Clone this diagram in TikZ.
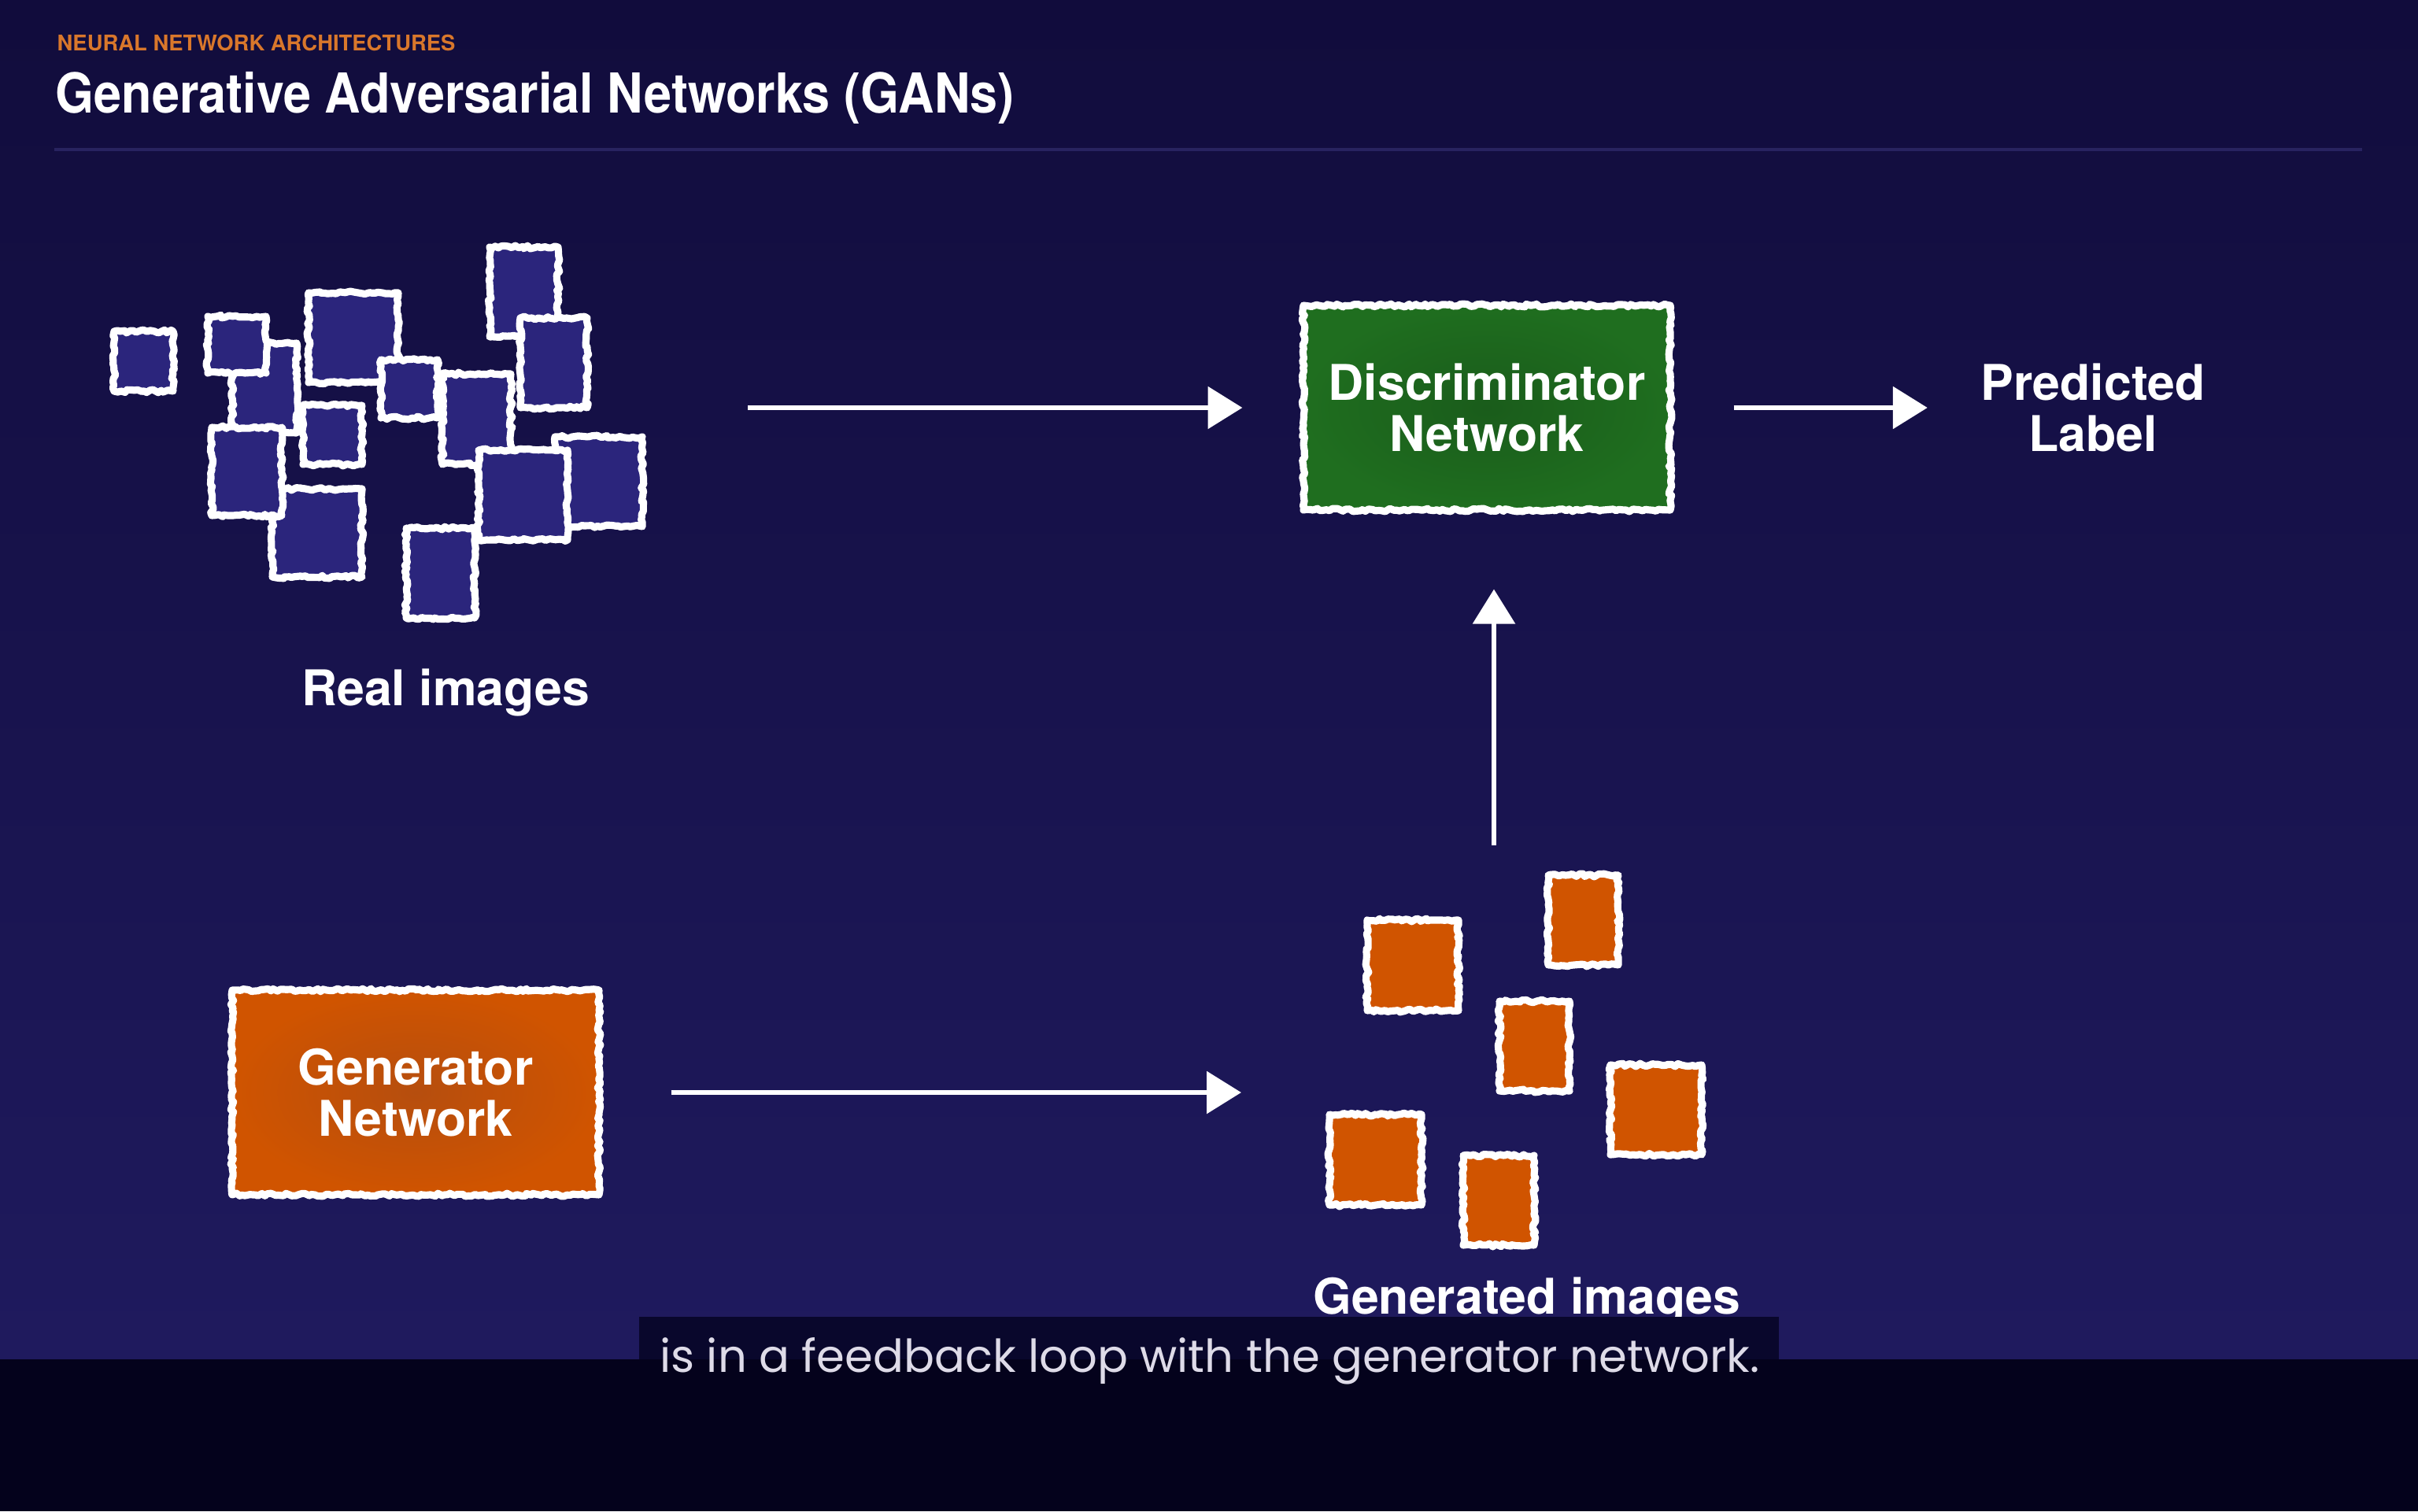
\documentclass[tikz,border=0pt]{standalone}
\usepackage{fontspec}
\setmainfont{TeX Gyre Heros}
\newfontfamily\titlefont[FakeStretch=0.9]{TeX Gyre Heros}
\newfontfamily\capfont{Poppins}
\usetikzlibrary{arrows.meta,decorations.pathmorphing}

\definecolor{bgtop}{HTML}{110C3C}
\definecolor{bgbot}{HTML}{1F1A5E}
\definecolor{bandcol}{HTML}{04021C}
\definecolor{capbox}{HTML}{09072C}
\definecolor{realfill}{HTML}{2B257C}
\definecolor{genfill}{HTML}{D05400}
\definecolor{gencore}{HTML}{B64E0E}
\definecolor{discfill}{HTML}{1F6E1F}
\definecolor{disccore}{HTML}{1A5C1B}
\definecolor{kicker}{HTML}{D9772B}
\definecolor{rulecol}{HTML}{282360}
\definecolor{captext}{HTML}{DEDBE8}

\begin{document}
\pgfmathsetseed{42}
\begin{tikzpicture}[
    chalk/.style={draw=white, line width=2.6pt, line join=round, decorate,
                  decoration={random steps, segment length=1.2pt, amplitude=0.55pt}},
    realimg/.style={chalk, fill=realfill, inner sep=0pt},
    genimg/.style={chalk, fill=genfill, inner sep=0pt},
    netbox/.style={chalk, minimum width=4.66cm, minimum height=2.6cm, align=center,
                   text=white, font=\bfseries\fontsize{17.8}{18.5}\selectfont},
    lbl/.style={text=white, align=center, inner sep=0pt,
                font=\bfseries\fontsize{17.8}{18.5}\selectfont},
    arr/.style={draw=white, line width=1.9pt, -{Triangle[width=15pt, length=12.5pt]}}
]
\useasboundingbox (0,0) rectangle (30.72,-19.2);
\shade[top color=bgtop, bottom color=bgbot] (0,0) rectangle (30.72,-17.27);
\fill[bandcol] (0,-17.27) rectangle (30.72,-19.2);

% heading
\node[anchor=base west, inner sep=0pt, text=kicker, font=\bfseries\fontsize{7.8}{8}\selectfont]
    (kicker) at (0.72,-0.65) {NEURAL NETWORK ARCHITECTURES};
\node[anchor=base west, inner sep=0pt, text=white, font=\titlefont\bfseries\fontsize{19.9}{21}\selectfont]
    (title) at (0.70,-1.44) {Generative Adversarial Networks (GANs)};
\draw[rulecol, line width=0.9pt] (0.69,-1.90) -- (30.01,-1.90);

% real images
\node[realimg, minimum width=0.75cm, minimum height=0.76cm] (r1) at (1.825,-4.59) {};
\node[realimg, minimum width=0.82cm, minimum height=1.14cm] (r3) at (3.36,-4.93) {};
\node[realimg, minimum width=0.74cm, minimum height=0.72cm] (r2) at (3.01,-4.38) {};
\node[realimg, minimum width=1.14cm, minimum height=1.12cm] (r11) at (4.03,-6.77) {};
\node[realimg, minimum width=0.89cm, minimum height=1.12cm] (r10) at (3.135,-5.99) {};
\node[realimg, minimum width=1.14cm, minimum height=1.14cm] (r4) at (4.49,-4.29) {};
\node[realimg, minimum width=0.75cm, minimum height=0.75cm] (r9) at (4.225,-5.525) {};
\node[realimg, minimum width=0.87cm, minimum height=1.14cm] (r5) at (6.655,-3.71) {};
\node[realimg, minimum width=0.85cm, minimum height=1.14cm] (r6) at (7.035,-4.61) {};
\node[realimg, minimum width=0.72cm, minimum height=0.74cm] (r7) at (5.20,-4.94) {};
\node[realimg, minimum width=0.87cm, minimum height=1.15cm] (r8) at (6.055,-5.325) {};
\node[realimg, minimum width=0.87cm, minimum height=1.14cm] (r12) at (5.595,-7.28) {};
\node[realimg, minimum width=1.11cm, minimum height=1.14cm] (r14) at (7.605,-6.12) {};
\node[realimg, minimum width=1.13cm, minimum height=1.14cm] (r13) at (6.645,-6.29) {};
\node[lbl, anchor=base] (realtxt) at (5.66,-8.96) {Real images};

% networks
\node[netbox, inner color=disccore, outer color=discfill] (disc) at (18.89,-5.18) {Discriminator\\Network};
\node[lbl] (pred) at (26.59,-5.18) {Predicted\\Label};
\node[netbox, inner color=gencore, outer color=genfill] (gen) at (5.28,-13.88) {Generator\\Network};

% generated images
\node[genimg, minimum width=1.16cm, minimum height=1.15cm] (g1) at (17.95,-12.265) {};
\node[genimg, minimum width=0.89cm, minimum height=1.14cm] (g2) at (20.115,-11.69) {};
\node[genimg, minimum width=0.89cm, minimum height=1.14cm] (g3) at (19.495,-13.29) {};
\node[genimg, minimum width=1.16cm, minimum height=1.14cm] (g4) at (21.04,-14.10) {};
\node[genimg, minimum width=1.17cm, minimum height=1.15cm] (g5) at (17.475,-14.735) {};
\node[genimg, minimum width=0.90cm, minimum height=1.14cm] (g6) at (19.04,-15.25) {};
\node[lbl, anchor=base] (gentxt) at (19.40,-16.69) {Generated images};

\coordinate (realout) at (9.50,-5.18);
\coordinate (genin) at (15.77,-13.87);
\coordinate (genup) at (18.98,-10.74);
\draw[arr, shorten >=0.73cm] (realout) -- (realout -| disc.west);
\draw[arr, shorten <=0.76cm, shorten >=0.67cm] (disc.east) -- (pred.west);
\draw[arr, shorten <=0.87cm] (gen.east) -- (gen.east -| genin);
\draw[arr, shorten >=0.96cm] (genup) -- (genup |- disc.south);

% caption
\fill[capbox] (8.12,-16.73) rectangle (22.60,-17.27);
\node[anchor=base, inner sep=0pt, text=captext, font=\capfont\fontsize{16.4}{16.4}\selectfont]
    (cap) at (15.37,-17.43) {is in a feedback loop with the generator network.};
\end{tikzpicture}
\end{document}
